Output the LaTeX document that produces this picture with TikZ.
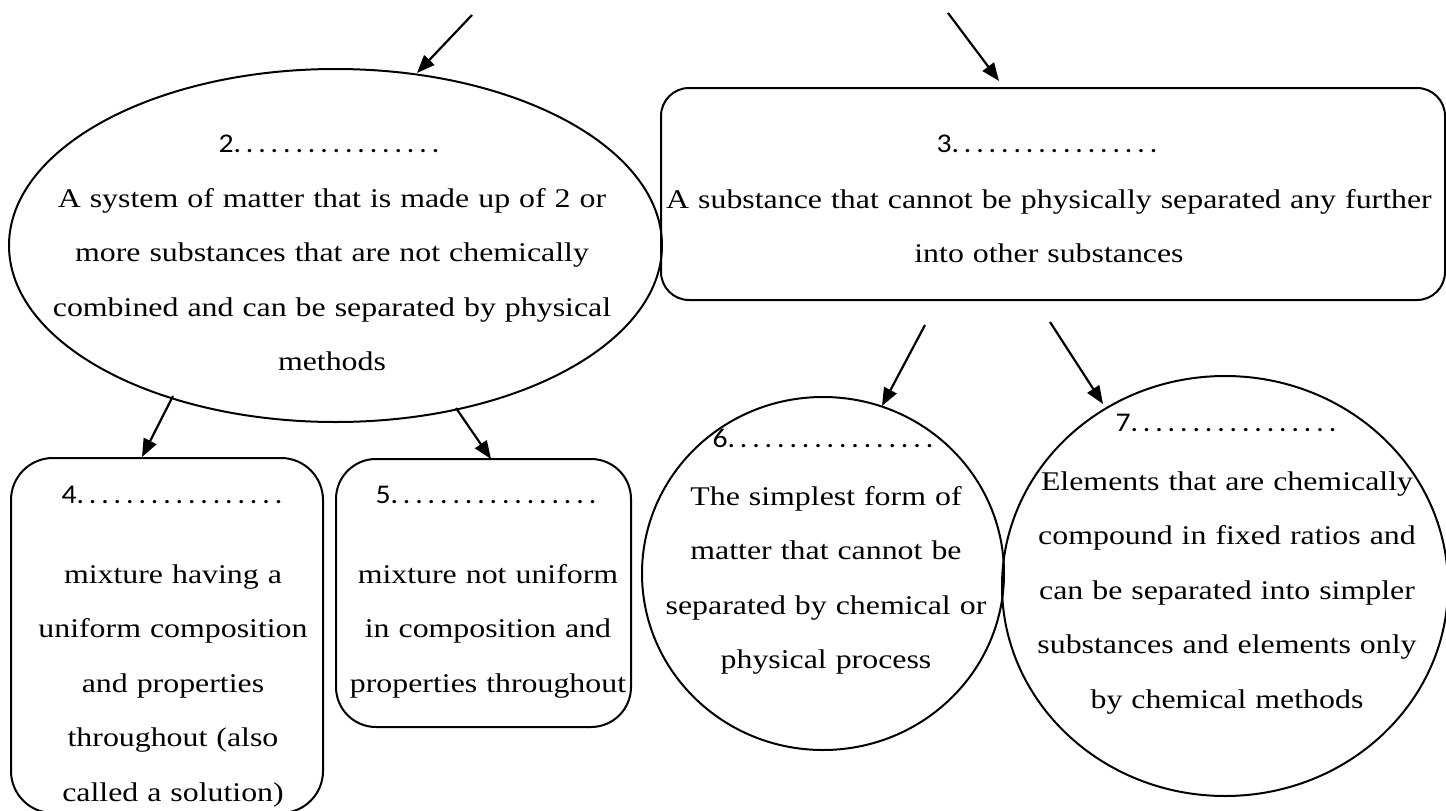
\documentclass[tikz,border=0pt]{standalone}
\usepackage{fontspec}
\setmainfont{Liberation Serif}[FakeStretch=1.18]
\newfontfamily\numfont{Carlito}[FakeStretch=1.1]
\usetikzlibrary{shapes.geometric,arrows.meta}
\newcommand\onedot{\makebox[12.4pt][l]{.}}
\newcommand\dotlbl[1]{{\numfont\fontsize{27}{30}\selectfont #1\onedot\onedot\onedot\onedot\onedot\onedot\onedot\onedot\onedot\onedot\onedot\onedot\onedot\onedot\onedot\onedot.}}
\begin{document}
\begin{tikzpicture}[x=1pt,y=-1pt,
  shapeline/.style={draw=black, line width=2pt, inner sep=0pt, outer sep=0pt},
  ell/.style={shapeline, ellipse},
  rbox/.style={shapeline, rectangle},
  arr/.style={line width=2.2pt, -{Triangle[length=18pt,width=14pt]}},
  body/.style={anchor=base, inner sep=0pt, align=center, font=\fontsize{27}{54.6}\selectfont},
  lbl/.style={anchor=base, inner sep=0pt}]
\useasboundingbox (0,0) rectangle (1446,811);

% shapes
\node[ell, minimum width=653pt, minimum height=353pt] (e2) at (335.5,245.5) {};
\node[rbox, rounded corners=28pt, minimum width=784pt, minimum height=212pt] (r3) at (1053,194) {};
\node[rbox, rounded corners=42pt, minimum width=312pt, minimum height=355pt] (b4) at (167,635.5) {};
\node[rbox, rounded corners=40pt, minimum width=295pt, minimum height=268pt] (b5) at (483.5,593) {};
\node[ell, minimum width=362pt, minimum height=353pt] (e6) at (823,573.5) {};
\node[ell, minimum width=446pt, minimum height=420pt] (e7) at (1225,586) {};

% labels
\node[lbl] (l2) at (329,152) {\dotlbl{2}};
\node[lbl] (l3) at (1047,152) {\dotlbl{3}};
\node[lbl] (l4) at (172,503) {\dotlbl{4}};
\node[lbl] (l5) at (486,503) {\dotlbl{5}};
\node[lbl] (l6) at (823,447) {\dotlbl{6}};
\node[lbl] (l7) at (1226,431) {\dotlbl{7}};

% body texts
\node[body, text width=640pt] (t2) at (332,207) {A system of matter that is made up of 2 or\\ more substances that are not chemically\\ combined and can be separated by physical\\ methods};
\node[body, text width=800pt] (t3) at (1049,208) {A substance that cannot be physically separated any further\\ into other substances};
\node[body, text width=300pt] (t4) at (173,583) {mixture having a\\ uniform composition\\ and properties\\ throughout (also\\ called a solution)};
\node[body, text width=290pt] (t5) at (488,583) {mixture not uniform\\ in composition and\\ properties throughout};
\node[body, text width=360pt] (t6) at (826,505) {The simplest form of\\ matter that cannot be\\ separated by chemical or\\ physical process};
\node[body, text width=440pt] (t7) at (1227,490) {Elements that are chemically\\ compound in fixed ratios and\\ can be separated into simpler\\ substances and elements only\\ by chemical methods};

% arrow end points
\coordinate (a1s) at (472,15);   \coordinate (a1e) at (417,73);
\coordinate (a2s) at (948,13);   \coordinate (a2e) at (999,81);
\coordinate (a3s) at (173,396);  \coordinate (a3e) at (142,457);
\coordinate (a4s) at (456,408);  \coordinate (a4e) at (491,459);
\coordinate (a5s) at (925,325);  \coordinate (a5e) at (882,406);
\coordinate (a6s) at (1050,322); \coordinate (a6e) at (1103,404);

\draw[arr] (a1s) -- (a1e);
\draw[arr] (a2s) -- (a2e);
\draw[arr] (a3s) -- (a3e);
\draw[arr] (a4s) -- (a4e);
\draw[arr] (a5s) -- (a5e);
\draw[arr] (a6s) -- (a6e);
\end{tikzpicture}
\end{document}
